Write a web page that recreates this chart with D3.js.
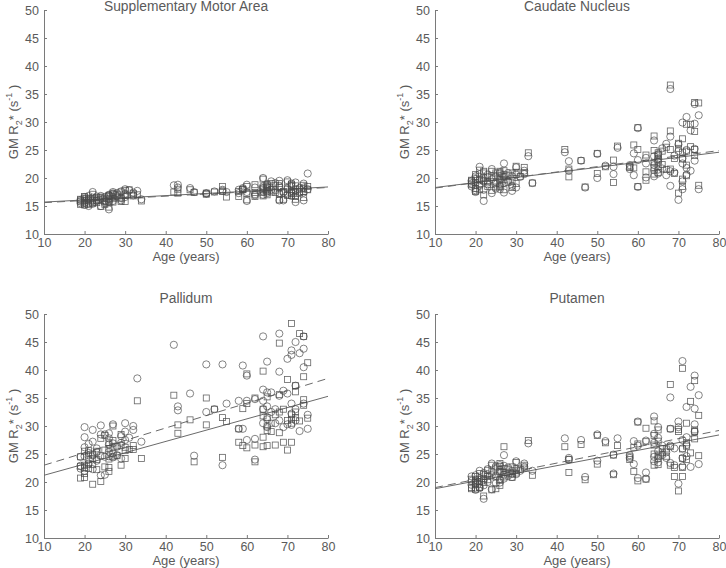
<!DOCTYPE html>
<html>
<head>
<meta charset="utf-8">
<script src="https://cdn.jsdelivr.net/npm/d3@7"></script>
<style>
html,body{margin:0;padding:0;background:#fff;}
svg{display:block;font-family:"Liberation Sans",Arial,sans-serif;}
</style>
</head>
<body>
<svg id="chart" width="726" height="568"></svg>
<script>
// ---- DATA ----
const ages = [
 19,19,19, 20,20,20,20,20, 21,21,21,21, 22,22,22,22, 23,23,23, 24,24,24, 25,25,25,
 26,26,26,26,26, 27,27,27,27, 28,28, 29,29,29, 30,30,30, 31, 32,32, 33, 34,
 42, 43,43, 46, 47, 50,50, 52, 54,54, 55,
 58,58, 59,59, 60,60,60, 62,62,62, 64,64,64,64,64, 65,65,65,65,65, 66,66, 67,67,
 68,68,68,68, 69,69, 70,70,70, 71,71,71,71,71, 72,72,72,72, 73,73, 74,74,74,74, 75,75
];

const smaCircles = [
 16.1,15.5,15.8, 16.3,15.2,15.9,16.6,15.6, 15.0,16.2,15.5,16.8, 17.5,16.0,15.4,16.5, 16.7,15.9,16.2, 15.0,16.4,16.8, 16.0,15.5,16.6,
 14.4,16.9,15.8,17.0,16.3, 17.5,16.6,15.9,17.2, 16.8,17.3, 16.0,17.6,16.5, 18.0,17.2,16.6, 17.8, 16.9,17.4, 17.7, 16.2,
 18.7, 18.8,18.3, 18.2, 17.5, 17.2,17.3, 17.6, 17.9,17.7, 17.5,
 17.3,17.9, 18.0,18.2, 15.9,18.8,17.5, 18.3,17.1,16.9, 20.0,18.5,17.6,18.2,17.0, 18.9,17.3,18.0,17.6,18.4, 19.4,17.9, 19.1,17.8,
 19.5,16.0,17.3,18.6, 16.0,17.4, 19.6,17.1,18.2, 19.0,17.7,16.8,18.5,17.3, 15.7,19.2,17.9,16.9, 18.2,17.5, 19.0,16.0,18.3,17.4, 20.8,18.0
];
const smaSquares = [
 15.9,15.3,16.2, 16.0,15.5,16.4,15.2,16.7, 15.3,15.9,16.4,16.1, 17.1,15.7,16.3,15.5, 16.5,16.0,15.6, 14.9,16.2,16.6, 15.8,15.3,16.4,
 14.8,16.7,15.6,16.9,16.1, 17.3,16.3,15.7,17.0, 16.6,17.1, 15.8,17.5,16.3, 17.8,17.0,15.8, 17.9, 16.8,17.2, 17.0, 15.9,
 17.5, 18.0,17.3, 17.9, 17.4, 17.1,17.3, 17.5, 18.5,17.6, 16.6,
 16.7,17.6, 17.9,18.0, 16.1,18.5,17.2, 18.8,16.7,17.4, 19.8,18.2,16.8,17.9,17.4, 18.6,17.0,17.7,18.3,18.8, 19.0,17.5, 18.7,17.4,
 19.0,16.1,17.1,18.3, 16.2,17.6, 19.3,16.9,18.0, 18.7,17.3,16.9,18.9,17.5, 16.2,18.6,17.6,16.7, 18.0,17.3, 18.7,16.5,18.1,17.6, 18.5,17.9
];

const caudateCircles = [
 19.0,18.5,19.5, 17.5,19.8,18.2,20.3,17.8, 22.0,18.6,19.6,20.7, 15.9,19.4,20.1,17.9, 18.9,20.6,19.2, 21.6,17.3,19.8, 18.1,20.3,19.3,
 21.0,18.0,19.6,20.8,18.6, 22.6,17.4,20.2,19.1, 20.9,19.5, 17.7,20.3,18.6, 21.9,18.3,20.6, 20.2, 21.3,20.7, 23.9, 19.1,
 24.6, 23.0,21.3, 23.1, 18.3, 24.3,20.0, 22.2, 20.7,22.0, 25.4,
 21.6,22.3, 24.4,20.5, 28.9,18.4,23.2, 22.6,20.1,23.6, 26.7,22.3,20.3,23.9,21.4, 24.2,21.5,22.9,20.8,23.5, 25.3,21.7, 26.1,20.5,
 35.9,27.4,21.2,18.6, 21.0,24.0, 16.1,26.0,24.8, 29.9,22.6,19.4,18.0,23.5, 30.9,20.6,21.8,25.0, 28.5,21.3, 33.2,29.7,23.1,25.2, 31.2,18.0
];
const caudateSquares = [
 19.3,18.8,19.6, 20.6,17.6,19.2,18.1,20.0, 19.8,18.9,21.4,17.9, 17.0,20.9,19.5,21.2, 19.4,20.2,18.5, 20.4,17.8,21.2, 18.4,20.9,19.0,
 21.2,18.4,19.8,20.4,18.9, 21.3,17.9,20.6,19.7, 20.5,19.2, 18.3,20.9,19.6, 22.1,19.0,21.0, 20.3, 21.9,21.0, 24.5, 19.1,
 25.1, 21.6,20.2, 23.1, 18.4, 24.4,20.8, 22.0, 23.2,19.2, 25.7,
 21.9,22.0, 25.9,21.8, 29.0,18.5,25.1, 24.1,19.6,21.1, 27.5,24.9,20.7,22.8,21.9, 24.5,21.0,23.3,22.1,24.1, 24.8,22.4, 25.5,21.5,
 36.6,28.4,21.6,25.1, 20.8,23.5, 17.3,25.3,26.2, 27.0,23.4,19.8,18.5,24.6, 29.6,20.4,22.3,24.8, 29.6,25.6, 33.5,28.3,25.1,24.0, 33.4,18.7
];

const pallidumCircles = [
 24.5,22.4,22.9, 29.8,28.0,26.2,24.6,22.0, 25.2,23.3,24.0,26.8, 29.3,27.2,24.8,22.3, 26.0,25.3,23.8, 30.1,28.5,21.2, 28.5,24.5,21.3,
 28.7,26.7,25.4,27.8,24.6, 30.3,26.9,25.1,24.4, 24.8,26.3, 28.2,27.0,24.2, 30.5,29.0,27.5, 27.9, 30.0,29.3, 38.5, 27.2,
 44.5, 33.5,32.8, 35.8, 24.7, 41.0,32.5, 33.0, 41.0,23.0, 34.0,
 34.5,29.5, 40.8,29.5, 39.0,34.5,27.5, 34.8,27.7,24.0, 46.0,36.5,34.5,33.0,30.5, 41.5,36.0,31.2,29.8,33.5, 36.0,32.5, 30.5,33.0,
 46.5,39.7,35.4,31.0, 36.3,29.8, 42.0,35.8,30.3, 43.5,42.7,30.2,32.2,34.0, 45.0,37.2,31.0,33.0, 43.0,29.1, 46.0,43.8,40.5,34.0, 29.5,32.0
];
const pallidumSquares = [
 22.8,20.7,24.5, 20.8,22.5,25.5,23.0,21.5, 23.2,22.4,24.8,25.6, 19.6,23.1,24.2,25.0, 22.2,24.0,25.5, 20.1,27.8,24.7, 22.7,25.7,28.3,
 22.6,26.0,24.1,27.0,21.9, 30.0,26.1,24.5,27.4, 24.7,26.4, 23.0,26.5,28.5, 24.2,26.2,25.6, 25.8, 25.8,26.5, 34.5, 24.2,
 35.5, 30.2,28.7, 31.1, 23.6, 35.0,30.2, 33.0, 31.5,24.4, 30.8,
 29.5,27.1, 33.1,26.5, 39.3,26.1,34.0, 35.0,26.6,23.6, 39.8,26.3,28.0,31.8,33.0, 35.2,26.5,30.0,29.2,31.5, 30.5,29.0, 26.6,32.0,
 44.8,35.6,32.5,28.8, 27.1,33.0, 38.3,25.7,31.0, 48.3,27.1,31.2,30.5,32.0, 37.2,36.1,32.5,31.5, 46.5,30.9, 46.0,38.8,34.7,33.7, 41.3,31.4
];

const putamenCircles = [
 21.0,19.5,20.2, 19.0,20.4,18.6,21.2,19.7, 22.0,19.1,20.7,18.9, 17.0,21.6,20.3,19.4, 21.4,20.0,22.3, 23.3,18.7,21.2, 21.1,22.8,19.8,
 22.2,20.5,23.0,21.6,19.9, 24.8,21.3,22.9,20.6, 22.6,21.1, 20.9,22.0,21.5, 23.7,21.4,22.3, 22.0, 23.3,22.7, 26.9, 22.0,
 27.8, 24.3,24.0, 27.5, 20.9, 28.5,23.8, 27.3, 24.9,21.5, 27.8,
 24.8,24.3, 27.3,23.2, 30.8,20.7,26.5, 27.4,21.7,20.6, 31.7,28.6,27.0,24.5,23.7, 29.8,25.5,24.2,27.9,23.5, 26.5,24.8, 25.3,24.3,
 35.1,26.5,23.4,29.5, 23.0,26.0, 30.8,29.8,19.7, 41.6,26.0,24.3,22.8,27.5, 33.4,26.6,24.6,28.0, 37.0,22.7, 39.0,33.1,30.3,29.0, 35.5,23.2
];
const putamenSquares = [
 20.5,19.0,18.8, 19.5,20.0,18.7,21.0,20.3, 19.0,21.5,20.1,19.6, 17.5,21.3,20.6,19.9, 21.0,20.4,22.1, 23.0,18.6,21.8, 18.8,22.5,20.9,
 20.3,22.8,21.9,19.4,23.3, 26.3,20.9,22.4,21.7, 21.6,22.3, 20.8,21.4,22.7, 23.5,21.6,22.0, 22.3, 23.0,22.5, 27.4, 21.2,
 26.3, 21.7,24.0, 26.7, 20.4, 28.3,23.2, 27.0, 24.8,21.3, 26.5,
 24.5,24.0, 26.2,21.9, 30.7,20.2,26.8, 29.6,27.2,20.5, 30.9,28.3,26.6,23.0,25.0, 29.3,24.8,23.1,27.3,24.5, 26.0,25.2, 24.6,25.9,
 37.4,29.5,26.3,23.0, 21.0,22.6, 29.4,18.4,29.0, 40.3,25.9,22.6,21.0,24.2, 30.5,26.4,24.0,27.0, 34.4,25.2, 38.1,29.0,27.7,29.3, 31.9,24.7
];

// regression line values at the ends of the age axis (fitAges)
const fitAges = [10, 80];
const smaSolidFit = [15.7, 18.4];
const smaDashedFit = [15.6, 18.3];
const caudateSolidFit = [18.3, 24.6];
const caudateDashedFit = [18.2, 24.9];
const pallidumSolidFit = [21.2, 35.3];
const pallidumDashedFit = [23.0, 38.5];
const putamenSolidFit = [18.8, 28.4];
const putamenDashedFit = [19.0, 29.2];

const titles = ["Supplementary Motor Area", "Caudate Nucleus", "Pallidum", "Putamen"];
const xTicks = [10, 20, 30, 40, 50, 60, 70, 80];
const yTicks = [10, 15, 20, 25, 30, 35, 40, 45, 50];
const xDomain = [10, 80];
const yDomain = [10, 50];

// ---- DRAW ----
const panels = [
  {title: titles[0], c: smaCircles, s: smaSquares, solid: smaSolidFit, dashed: smaDashedFit, left: 44, top: 10, ty: 1},
  {title: titles[1], c: caudateCircles, s: caudateSquares, solid: caudateSolidFit, dashed: caudateDashedFit, left: 435, top: 10, ty: 1},
  {title: titles[2], c: pallidumCircles, s: pallidumSquares, solid: pallidumSolidFit, dashed: pallidumDashedFit, left: 44, top: 314, ty: -11},
  {title: titles[3], c: putamenCircles, s: putamenSquares, solid: putamenSolidFit, dashed: putamenDashedFit, left: 435, top: 314, ty: -11}
];
const W = 284, H = 224;
const textColor = "#5a5a5a";
const axisColor = "#7a7a7a";
const markColor = "#4a4a4a";

const svg = d3.select("#chart");

panels.forEach(p => {
  const g = svg.append("g").attr("transform", `translate(${p.left},${p.top})`);
  const x = d3.scaleLinear().domain(xDomain).range([0, W]);
  const y = d3.scaleLinear().domain(yDomain).range([H, 0]);

  // axes
  const xAxis = d3.axisBottom(x).tickValues(xTicks).tickSizeInner(-3).tickSizeOuter(0).tickPadding(4);
  const yAxis = d3.axisLeft(y).tickValues(yTicks).tickSizeInner(-3).tickSizeOuter(0).tickPadding(5);
  const gx = g.append("g").attr("transform", `translate(0,${H})`).call(xAxis);
  const gy = g.append("g").call(yAxis);
  [gx, gy].forEach(a => {
    a.select(".domain").attr("stroke", axisColor).attr("stroke-width", 1);
    a.selectAll(".tick line").attr("stroke", axisColor);
    a.selectAll(".tick text").attr("fill", textColor).attr("font-size", 12.5)
      .attr("font-family", "'Liberation Sans', Arial, sans-serif");
  });

  // regression lines
  const line = d3.line().x(d => x(d[0])).y(d => y(d[1]));
  g.append("path").datum(fitAges.map((a, i) => [a, p.solid[i]]))
    .attr("d", line).attr("fill", "none").attr("stroke", "#6a6a6a").attr("stroke-width", 1);
  g.append("path").datum(fitAges.map((a, i) => [a, p.dashed[i]]))
    .attr("d", line).attr("fill", "none").attr("stroke", "#6a6a6a").attr("stroke-width", 1)
    .attr("stroke-dasharray", "8,5");

  // squares
  const sq = 6;
  g.append("g").selectAll("rect").data(p.s.map((v, i) => [ages[i], v])).join("rect")
    .attr("x", d => x(d[0]) - sq / 2).attr("y", d => y(d[1]) - sq / 2)
    .attr("width", sq).attr("height", sq)
    .attr("fill", "none").attr("stroke", markColor).attr("stroke-width", 0.8).attr("stroke-opacity", 0.85);
  // circles
  g.append("g").selectAll("circle").data(p.c.map((v, i) => [ages[i], v])).join("circle")
    .attr("cx", d => x(d[0])).attr("cy", d => y(d[1])).attr("r", 3.6)
    .attr("fill", "none").attr("stroke", markColor).attr("stroke-width", 0.8).attr("stroke-opacity", 0.85);

  // title
  g.append("text").attr("x", W / 2).attr("y", p.ty).attr("text-anchor", "middle")
    .attr("fill", textColor).attr("font-size", 13.8).text(p.title);
  // x label
  g.append("text").attr("x", W / 2).attr("y", H + 27).attr("text-anchor", "middle")
    .attr("fill", textColor).attr("font-size", 13).text("Age (years)");
  // y label
  const yl = g.append("text").attr("transform", `translate(-26,${H / 2}) rotate(-90)`)
    .attr("text-anchor", "middle").attr("fill", textColor).attr("font-size", 13);
  yl.append("tspan").text("GM R");
  yl.append("tspan").attr("font-size", 9).attr("dy", 4).text("2");
  yl.append("tspan").attr("dy", -4).text("* (s");
  yl.append("tspan").attr("font-size", 9).attr("dy", -6).text("-1");
  yl.append("tspan").attr("dy", 6).text(" )");
});
</script>
</body>
</html>
